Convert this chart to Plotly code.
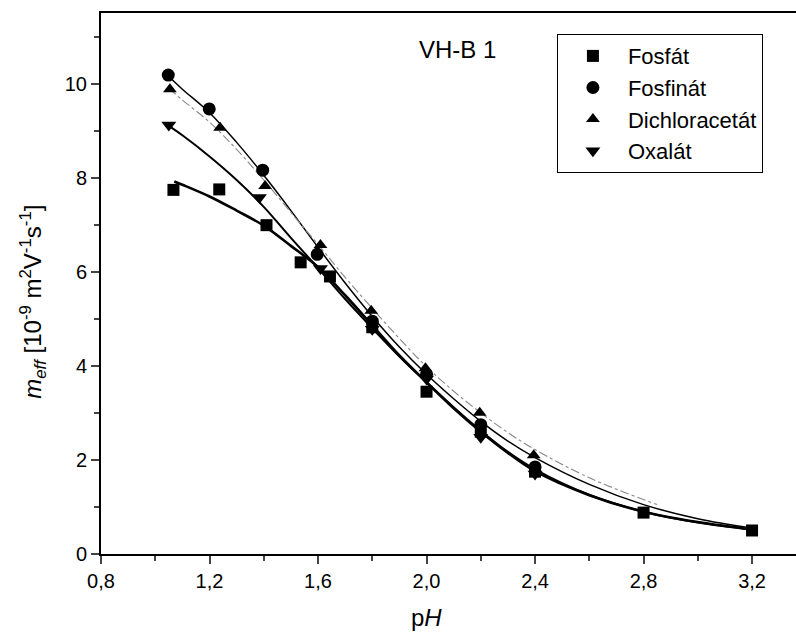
import plotly.graph_objects as go

# ---- data ----
fosfat_x = [1.067, 1.236, 1.41, 1.536, 1.644, 1.80, 2.0, 2.2, 2.4, 2.8, 3.2]
fosfat_y = [7.74, 7.75, 6.99, 6.20, 5.90, 4.82, 3.45, 2.60, 1.75, 0.88, 0.50]

fosfinat_x = [1.048, 1.199, 1.396, 1.597, 1.80, 2.0, 2.2, 2.4]
fosfinat_y = [10.18, 9.46, 8.16, 6.37, 4.95, 3.82, 2.75, 1.85]

dichlor_x = [1.054, 1.239, 1.405, 1.609, 1.796, 1.996, 2.196, 2.395]
dichlor_y = [9.88, 9.06, 7.82, 6.57, 5.17, 3.95, 3.00, 2.10]

oxalat_x = [1.05, 1.384, 1.609, 1.80, 2.0, 2.2, 2.4]
oxalat_y = [9.12, 7.58, 6.07, 4.78, 3.72, 2.48, 1.70]

# fitted curves
fit_fosfat_x = [1.07, 1.1, 1.2, 1.3, 1.4, 1.5, 1.6, 1.7, 1.8, 1.9, 2.0, 2.1, 2.2, 2.3, 2.4, 2.6, 2.8, 3.0, 3.2]
fit_fosfat_y = [7.92, 7.85, 7.60, 7.30, 6.98, 6.55, 6.10, 5.50, 4.86, 4.22, 3.65, 3.10, 2.60, 2.15, 1.76, 1.25, 0.90, 0.68, 0.52]

fit_fosfinat_x = [1.05, 1.1, 1.2, 1.3, 1.4, 1.5, 1.6, 1.7, 1.8, 1.9, 2.0, 2.1, 2.2, 2.3, 2.4, 2.6, 2.8, 3.0, 3.2]
fit_fosfinat_y = [10.15, 9.88, 9.38, 8.75, 8.05, 7.30, 6.52, 5.76, 5.05, 4.40, 3.82, 3.30, 2.82, 2.40, 2.05, 1.48, 1.05, 0.75, 0.55]

fit_dichlor_x = [1.05, 1.1, 1.2, 1.3, 1.4, 1.5, 1.6, 1.7, 1.8, 1.9, 2.0, 2.1, 2.2, 2.3, 2.4, 2.6, 2.85]
fit_dichlor_y = [9.90, 9.65, 9.18, 8.60, 7.95, 7.26, 6.58, 5.88, 5.22, 4.58, 3.98, 3.46, 3.00, 2.58, 2.22, 1.62, 1.05]

fit_oxalat_x = [1.05, 1.1, 1.2, 1.3, 1.4, 1.5, 1.6, 1.7, 1.8, 1.9, 2.0, 2.1, 2.2, 2.3, 2.4, 2.6, 2.8, 3.0, 3.2]
fit_oxalat_y = [9.10, 8.90, 8.45, 7.95, 7.38, 6.72, 6.08, 5.42, 4.80, 4.20, 3.65, 3.12, 2.62, 2.17, 1.80, 1.26, 0.90, 0.67, 0.52]

x_ticks = [0.8, 1.2, 1.6, 2.0, 2.4, 2.8, 3.2]
x_ticklabels = ["0,8", "1,2", "1,6", "2,0", "2,4", "2,8", "3,2"]
y_ticks = [0, 2, 4, 6, 8, 10]

FONT = "Liberation Sans, Arial, sans-serif"

fig = go.Figure()

# curves
fig.add_trace(go.Scatter(x=fit_fosfat_x, y=fit_fosfat_y, mode="lines",
                         line=dict(color="black", width=2.6, shape="spline"), showlegend=False))
fig.add_trace(go.Scatter(x=fit_oxalat_x, y=fit_oxalat_y, mode="lines",
                         line=dict(color="black", width=2.0, shape="spline"), showlegend=False))
fig.add_trace(go.Scatter(x=fit_fosfinat_x, y=fit_fosfinat_y, mode="lines",
                         line=dict(color="black", width=1.5, shape="spline"), showlegend=False))
fig.add_trace(go.Scatter(x=fit_dichlor_x, y=fit_dichlor_y, mode="lines",
                         line=dict(color="#888888", width=1.1, dash="dashdot", shape="spline"), showlegend=False))

# markers
fig.add_trace(go.Scatter(x=fosfat_x, y=fosfat_y, mode="markers", name="Fosfát",
                         marker=dict(symbol="square", size=12, color="black")))
fig.add_trace(go.Scatter(x=fosfinat_x, y=fosfinat_y, mode="markers", name="Fosfinát",
                         marker=dict(symbol="circle", size=13, color="black")))
fig.add_trace(go.Scatter(x=dichlor_x, y=dichlor_y, mode="markers", name="Dichloracetát",
                         marker=dict(symbol="triangle-up", size=12, color="black")))
fig.add_trace(go.Scatter(x=oxalat_x, y=oxalat_y, mode="markers", name="Oxalát",
                         marker=dict(symbol="triangle-down", size=13, color="black")))

fig.update_layout(
    width=796, height=635,
    margin=dict(l=101, r=0, t=13, b=81),
    plot_bgcolor="white", paper_bgcolor="white",
    font=dict(family=FONT, color="black", size=20),
    separators=", ",
    legend=dict(
        x=0.656, y=0.961, xanchor="left", yanchor="top",
        bordercolor="black", borderwidth=1, bgcolor="white",
        font=dict(size=22, family=FONT), itemwidth=60,
        tracegroupgap=0,
    ),
    xaxis=dict(
        range=[0.8, 3.362], tickmode="array", tickvals=x_ticks, ticktext=x_ticklabels,
        ticks="outside", ticklen=8, tickwidth=2, showline=True, linewidth=2, linecolor="black",
        mirror=True, showgrid=False, zeroline=False,
        minor=dict(dtick=0.2, tick0=0.8, ticks="outside", ticklen=5, tickwidth=2),
        tickfont=dict(size=20),
    ),
    yaxis=dict(
        range=[0, 11.5], tickmode="array", tickvals=y_ticks,
        ticks="outside", ticklen=8, tickwidth=2, showline=True, linewidth=2, linecolor="black",
        mirror=False, showgrid=False, zeroline=False,
        minor=dict(dtick=1, tick0=0, ticks="outside", ticklen=5, tickwidth=2),
        tickfont=dict(size=20),
    ),
    annotations=[
        dict(text="VH-B 1", x=2.116, y=10.73, xref="x", yref="y", showarrow=False,
             font=dict(size=24, family=FONT)),
        dict(text="p<i>H</i>", x=2.0, y=-0.118, xref="x", yref="paper", showarrow=False,
             font=dict(size=24, family=FONT), yanchor="middle"),
        dict(text="<i>m</i><sub><i>eff</i></sub> [10<sup>-9</sup> m<sup>2</sup>V<sup>-1</sup>s<sup>-1</sup>]",
             x=-0.098, y=0.466, xref="paper", yref="paper", showarrow=False, textangle=-90,
             font=dict(size=24, family=FONT), xanchor="center", yanchor="middle"),
    ],
)

fig.write_html("out.html")
